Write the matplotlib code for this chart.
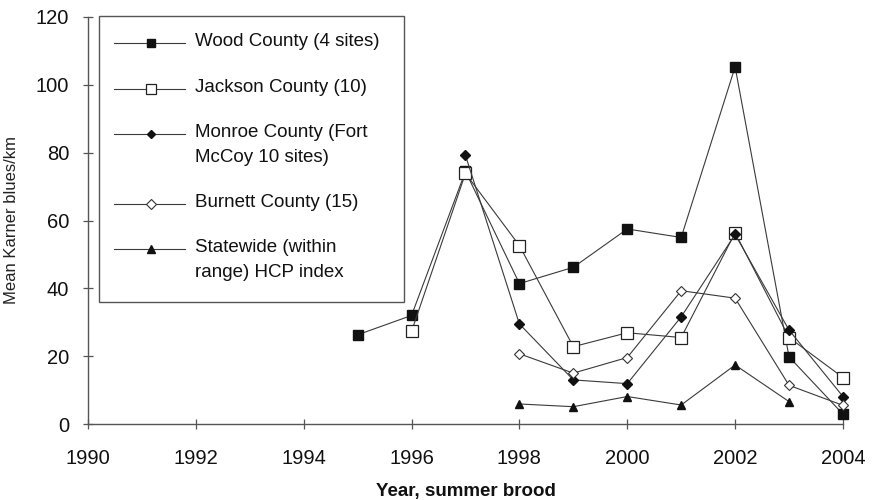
import matplotlib
matplotlib.use("Agg")
import matplotlib.pyplot as plt
from matplotlib.lines import Line2D
from matplotlib.patches import Rectangle
from matplotlib import font_manager

# Survey results: mean Karner blue butterflies per km, summer brood
wood_years = [1995, 1996, 1997, 1998, 1999, 2000, 2001, 2002, 2003, 2004]
wood = [26.3, 32.0, 74.5, 41.4, 46.2, 57.5, 55.0, 105.3, 19.8, 2.9]

jackson_years = [1996, 1997, 1998, 1999, 2000, 2001, 2002, 2003, 2004]
jackson = [27.3, 73.9, 52.6, 22.8, 26.9, 25.5, 56.4, 25.5, 13.7]

monroe_years = [1997, 1998, 1999, 2000, 2001, 2002, 2003, 2004]
monroe = [79.2, 29.5, 13.0, 11.9, 31.6, 55.9, 27.7, 8.1]

burnett_years = [1998, 1999, 2000, 2001, 2002, 2003, 2004]
burnett = [20.7, 15.0, 19.6, 39.3, 37.1, 11.4, 5.5]

state_years = [1998, 1999, 2000, 2001, 2002, 2003]
statewide = [5.9, 5.1, 8.1, 5.6, 17.4, 6.6]

labels = [
    "Wood County (4 sites)",
    "Jackson County (10)",
    "Monroe County (Fort\nMcCoy 10 sites)",
    "Burnett County (15)",
    "Statewide (within\nrange) HCP index",
]
x_ticks = list(range(1990, 2005, 2))
y_ticks = list(range(0, 121, 20))

available = {f.name for f in font_manager.fontManager.ttflist}
narrow = "Liberation Sans Narrow" if "Liberation Sans Narrow" in available else "Liberation Sans"
plt.rcParams["font.family"] = ["Liberation Sans", "DejaVu Sans"]

LINE = "#3a3a3a"
MK = "#111111"

fig = plt.figure(figsize=(8.72, 5.0), dpi=100)
ax = fig.add_axes([0.1009, 0.152, 0.8658, 0.814])

styles = [
    dict(marker="s", ms=6.5, mfc=MK, mec=MK),
    dict(marker="s", ms=8, mfc="white", mec="#222222", mew=0.9),
    dict(marker="D", ms=5.2, mfc=MK, mec=MK),
    dict(marker="D", ms=5.5, mfc="white", mec="#333333", mew=0.8),
    dict(marker="^", ms=6, mfc=MK, mec=MK),
]
series = [
    (wood_years, wood),
    (jackson_years, jackson),
    (monroe_years, monroe),
    (burnett_years, burnett),
    (state_years, statewide),
]
for z, ((xs, ys), st) in enumerate(zip(series, styles)):
    ax.plot(xs, ys, color=LINE, lw=0.8, zorder=3 + z, clip_on=False, **st)

ax.set_xlim(1990, 2004)
ax.set_ylim(0, 120)
ax.set_xticks(x_ticks)
ax.set_yticks(y_ticks)
for s in ("top", "right"):
    ax.spines[s].set_visible(False)
for s in ("left", "bottom"):
    ax.spines[s].set_color("#555555")
    ax.spines[s].set_linewidth(1.0)
ax.tick_params(axis="both", direction="inout", length=7, width=0.9,
               color="#555555", labelsize=14.5, labelcolor="#111111")
ax.tick_params(axis="x", pad=14.5)
ax.tick_params(axis="y", pad=10)

ax.set_xlabel("Year, summer brood", fontsize=13.5, fontweight="bold",
              labelpad=11, color="#111111")
ax.set_ylabel("Mean Karner blues/km", fontsize=12, family=[narrow, "DejaVu Sans"],
              labelpad=12, color="#222222")

# Legend box drawn by hand in axes coordinates
ax.add_patch(Rectangle((0.015, 0.299), 0.4035, 0.704, transform=ax.transAxes,
                       fill=False, edgecolor="#555555", lw=1.0, clip_on=False,
                       zorder=10))
rows = [0.937, 0.824, 0.712, 0.541, 0.430]
for y, st, lab in zip(rows, styles, labels):
    ax.add_line(Line2D([0.0344, 0.1285], [y, y], transform=ax.transAxes,
                       color=LINE, lw=0.8, clip_on=False, zorder=11))
    ax.add_line(Line2D([0.083], [y], transform=ax.transAxes, lw=0,
                       clip_on=False, zorder=12,
                       **{**st, "ms": st["ms"] * 0.85}))
    ax.text(0.1417, y + 0.024, lab, transform=ax.transAxes, fontsize=13.5,
            va="top", ha="left", linespacing=1.6, color="#111111",
            zorder=12)

fig.savefig("out.png", dpi=100)
